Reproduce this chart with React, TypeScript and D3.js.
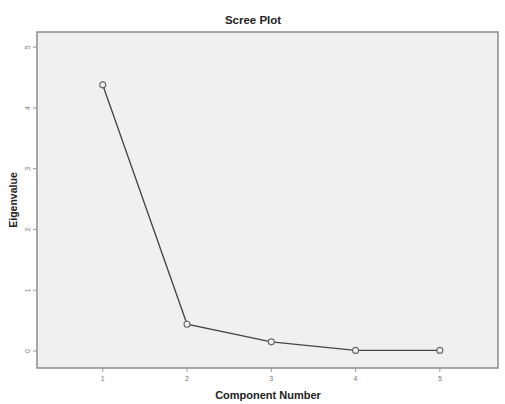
import React from "react";
import * as d3 from "d3";

const components = [1, 2, 3, 4, 5];
const eigenvalues = [4.38, 0.44, 0.15, 0.01, 0.01];
const yTicks = [0, 1, 2, 3, 4, 5];
const xTicks = [1, 2, 3, 4, 5];

export default function App() {
  const W = 505, H = 404;
  const left = 37, right = 498, top = 32, bottom = 368;
  const x = d3.scaleLinear().domain([0.22, 5.69]).range([left, right]);
  const y = d3.scaleLinear().domain([-0.28, 5.25]).range([bottom, top]);
  const line = d3.line<number>().x((_, i) => x(components[i])).y((d) => y(d));
  return (
    <svg width={W} height={H} style={{ position: "absolute", left: 0, top: 0, background: "#fff" }}
      fontFamily="Liberation Sans, Arial, sans-serif">
      <rect x={left} y={top} width={right - left} height={bottom - top} fill="#f0f0f0" stroke="#8c8c8c" strokeWidth={1.5} />
      <text x={253} y={24} textAnchor="middle" fontSize={11.5} fontWeight="bold" fill="#222">Scree Plot</text>
      {yTicks.map((t) => (
        <g key={"y" + t}>
          <line x1={left - 4} x2={left} y1={y(t)} y2={y(t)} stroke="#999" />
          <text transform={`translate(${left - 7},${y(t)}) rotate(-90)`} textAnchor="middle" fontSize={7} fill="#777">{t}</text>
        </g>
      ))}
      {xTicks.map((t) => (
        <g key={"x" + t}>
          <line x1={x(t)} x2={x(t)} y1={bottom} y2={bottom + 4} stroke="#999" />
          <text x={x(t)} y={bottom + 13} textAnchor="middle" fontSize={7} fill="#777">{t}</text>
        </g>
      ))}
      <text transform={`translate(17,200) rotate(-90)`} textAnchor="middle" fontSize={10.5} fontWeight="bold" fill="#222">Eigenvalue</text>
      <text x={268} y={399} textAnchor="middle" fontSize={11} fontWeight="bold" fill="#222">Component Number</text>
      <path d={line(eigenvalues) || ""} fill="none" stroke="#444" strokeWidth={1.4} />
      {eigenvalues.map((v, i) => (
        <circle key={i} cx={x(components[i])} cy={y(v)} r={3} fill="#f0f0f0" stroke="#666" strokeWidth={1.1} />
      ))}
    </svg>
  );
}
